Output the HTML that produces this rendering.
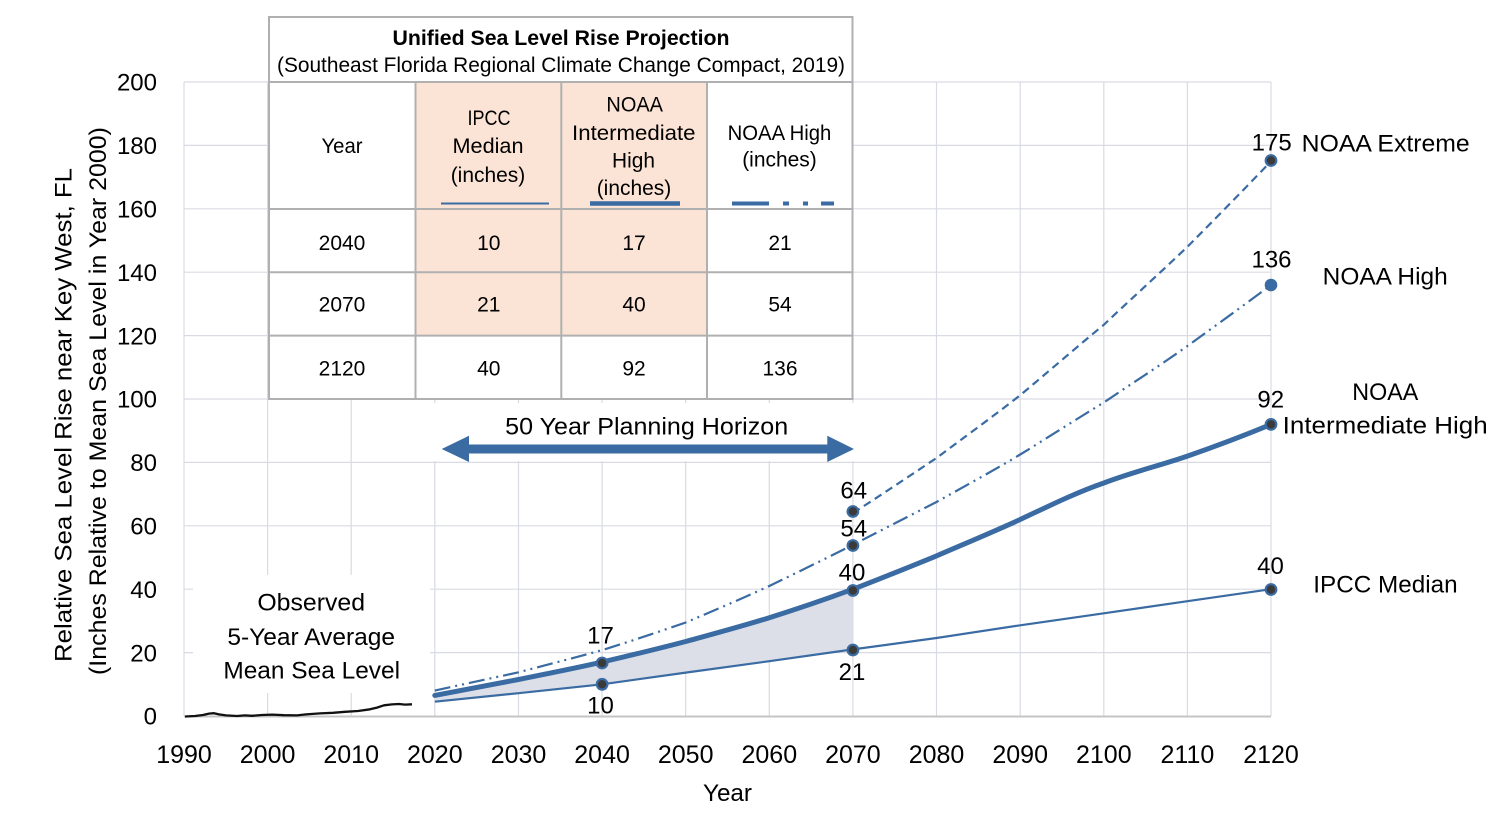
<!DOCTYPE html>
<html>
<head>
<meta charset="utf-8">
<style>
html,body{margin:0;padding:0;background:#fff;}
svg{display:block;}
text{font-family:"Liberation Sans",sans-serif;fill:#000;}
</style>
</head>
<body>
<svg width="1500" height="824" viewBox="0 0 1500 824" xmlns="http://www.w3.org/2000/svg">
<rect x="0" y="0" width="1500" height="824" fill="#fff"/>

<!-- grid -->
<g stroke="#d9dbe4" stroke-width="1.2">
<line x1="184" y1="82" x2="1271" y2="82"/>
<line x1="184" y1="145.4" x2="1271" y2="145.4"/>
<line x1="184" y1="208.8" x2="1271" y2="208.8"/>
<line x1="184" y1="272.2" x2="1271" y2="272.2"/>
<line x1="184" y1="335.6" x2="1271" y2="335.6"/>
<line x1="184" y1="399" x2="1271" y2="399"/>
<line x1="184" y1="462.4" x2="1271" y2="462.4"/>
<line x1="184" y1="525.8" x2="1271" y2="525.8"/>
<line x1="184" y1="589.2" x2="1271" y2="589.2"/>
<line x1="184" y1="652.6" x2="1271" y2="652.6"/>
<line x1="184" y1="82" x2="184" y2="716"/>
<line x1="267.6" y1="82" x2="267.6" y2="716"/>
<line x1="351.2" y1="82" x2="351.2" y2="716"/>
<line x1="434.8" y1="82" x2="434.8" y2="716"/>
<line x1="518.5" y1="82" x2="518.5" y2="716"/>
<line x1="602.1" y1="82" x2="602.1" y2="716"/>
<line x1="685.7" y1="82" x2="685.7" y2="716"/>
<line x1="769.3" y1="82" x2="769.3" y2="716"/>
<line x1="852.9" y1="82" x2="852.9" y2="716"/>
<line x1="936.5" y1="82" x2="936.5" y2="716"/>
<line x1="1020.2" y1="82" x2="1020.2" y2="716"/>
<line x1="1103.8" y1="82" x2="1103.8" y2="716"/>
<line x1="1187.4" y1="82" x2="1187.4" y2="716"/>
<line x1="1271" y1="82" x2="1271" y2="716"/>
</g>
<line x1="184" y1="716.5" x2="1271" y2="716.5" stroke="#c4c4c4" stroke-width="2"/>

<!-- white label boxes -->
<rect x="193" y="575" width="237" height="118" fill="#fff"/>
<rect x="430" y="403" width="430" height="58" fill="#fff"/>

<!-- table -->
<rect x="269" y="17" width="584" height="382" fill="#fff"/>
<rect x="415.5" y="82" width="291.5" height="253.6" fill="#fbe4d6"/>
<g stroke="#b0b0b0" stroke-width="2" fill="none">
<rect x="269" y="17" width="583.5" height="382"/>
<line x1="269" y1="82" x2="852.5" y2="82"/>
<line x1="269" y1="209" x2="852.5" y2="209"/>
<line x1="269" y1="272.2" x2="852.5" y2="272.2"/>
<line x1="269" y1="335.6" x2="852.5" y2="335.6"/>
<line x1="415.5" y1="82" x2="415.5" y2="399"/>
<line x1="561.3" y1="82" x2="561.3" y2="399"/>
<line x1="707" y1="82" x2="707" y2="399"/>
</g>
<text x="561" y="45" font-size="21" font-weight="bold" text-anchor="middle" textLength="337" lengthAdjust="spacingAndGlyphs">Unified Sea Level Rise Projection</text>
<text x="561" y="72" font-size="21" text-anchor="middle" textLength="568" lengthAdjust="spacingAndGlyphs">(Southeast Florida Regional Climate Change Compact, 2019)</text>

<g font-size="21" text-anchor="middle">
<text x="342" y="153" textLength="41" lengthAdjust="spacingAndGlyphs">Year</text>
<text x="489" y="125" textLength="43" lengthAdjust="spacingAndGlyphs">IPCC</text>
<text x="488" y="153" textLength="71" lengthAdjust="spacingAndGlyphs">Median</text>
<text x="488" y="182" textLength="74.6" lengthAdjust="spacingAndGlyphs">(inches)</text>
<text x="634.7" y="111.7" textLength="56.6" lengthAdjust="spacingAndGlyphs">NOAA</text>
<text x="633.8" y="140" textLength="123.5" lengthAdjust="spacingAndGlyphs">Intermediate</text>
<text x="633.5" y="167.3" textLength="43" lengthAdjust="spacingAndGlyphs">High</text>
<text x="634" y="195" textLength="74.6" lengthAdjust="spacingAndGlyphs">(inches)</text>
<text x="779.5" y="140" textLength="103.7" lengthAdjust="spacingAndGlyphs">NOAA High</text>
<text x="779.5" y="166.7" textLength="74.6" lengthAdjust="spacingAndGlyphs">(inches)</text>

<text x="342" y="250">2040</text>
<text x="488.8" y="250">10</text>
<text x="634" y="250">17</text>
<text x="780" y="250">21</text>
<text x="342" y="311.7">2070</text>
<text x="488.8" y="311.7">21</text>
<text x="634" y="311.7">40</text>
<text x="780" y="311.7">54</text>
<text x="342" y="375.5">2120</text>
<text x="488.8" y="375.5">40</text>
<text x="634" y="375.5">92</text>
<text x="780" y="375.5">136</text>
</g>
<!-- legend lines in table -->
<line x1="441" y1="203.5" x2="549" y2="203.5" stroke="#3a6ba3" stroke-width="2"/>
<line x1="590" y1="203.5" x2="680" y2="203.5" stroke="#3a6ba3" stroke-width="4.5"/>
<g stroke="#3a6ba3" stroke-width="4">
<line x1="732" y1="203.5" x2="769" y2="203.5"/>
<line x1="783" y1="203.5" x2="789" y2="203.5"/>
<line x1="803" y1="203.5" x2="808" y2="203.5"/>
<line x1="821" y1="203.5" x2="834" y2="203.5"/>
</g>

<!-- planning horizon arrow -->
<text x="646.7" y="434.3" font-size="24" text-anchor="middle" textLength="283" lengthAdjust="spacingAndGlyphs">50 Year Planning Horizon</text>
<polygon points="441.7,449 469,435.7 469,444.5 827.3,444.5 827.3,435.7 854,449 827.3,462 827.3,453.5 469,453.5 469,462" fill="#3a6ba3"/>

<!-- fill between IPCC and IH -->
<polygon fill="#dcdfe8" points="434.8,695.4 518.5,679.5 602.1,662.1 685.7,641.5 769.3,617.7 852.9,589.2 852.9,649.4 769.3,661.2 685.7,672.6 602.1,684.3 518.5,693.2 434.8,701.7"/>

<!-- observed -->
<polyline fill="none" stroke="#111" stroke-width="2.3" stroke-linejoin="round" points="185,716.5 195,716 203,715 209,713.6 214,713.2 219,714.4 226,715.4 237,716 245,715.4 252,715.8 262,715 272,714.6 284,715.2 297,715.4 306,714.4 320,713.4 333,712.8 345,711.8 358,711 370,709.3 377,707.6 384,705.3 392,704.4 399,704 405,704.6 412,704.3"/>

<!-- IPCC median -->
<polyline fill="none" stroke="#3a6ba3" stroke-width="2.2" stroke-linejoin="round" points="434.8,701.7 518.5,693.2 602.1,684.3 685.7,672.6 769.3,661.2 852.9,649.4 936.5,638.0 1020.2,625.3 1103.8,613.3 1187.4,601.2 1271,589.2"/>

<!-- NOAA Intermediate High -->
<path fill="none" stroke="#3a6ba3" stroke-width="5" stroke-linejoin="round" stroke-linecap="round" d="M434.8,695.4 C462,690 490,685 518.5,679.5 C546,674 574,668.5 602.1,662.1 C630,655.5 658,648.8 685.7,641.5 C713,634 741,626.5 769.3,617.7 C797,609 825,599.5 852.9,589.2 C881,578.5 908,567.5 936.5,555.9 C964,544 993,532 1020.2,519.5 C1048,506.5 1075,493 1103.8,483.0 C1131,472.5 1160,465.5 1187.4,456.1 C1215,446.5 1243,436 1271,424.4"/>

<!-- NOAA High dash-dot-dot -->
<path fill="none" stroke="#3a6ba3" stroke-width="2.2" stroke-dasharray="16 5 2 5 2 5" d="M434.8,690.6 C462,684.5 490,678.5 518.5,672.3 C546,665 574,658 602.1,650.1 C630,641.5 658,632 685.7,622.5 C713,611 741,599 769.3,586.0 C797,572.5 825,559 852.9,544.8 C881,530.5 908,516.5 936.5,502.0 C964,486.5 993,471 1020.2,454.5 C1048,437.5 1075,420 1103.8,402.5 C1131,384 1160,365.5 1187.4,346.0 C1215,326 1243,306 1271,284.9"/>

<!-- NOAA Extreme dashed -->
<path fill="none" stroke="#3a6ba3" stroke-width="2.2" stroke-dasharray="8 5" d="M852.9,513.1 C881,495 908,477 936.5,458.0 C964,437.5 993,416.5 1020.2,395.2 C1048,372 1075,348.5 1103.8,324.8 C1131,299 1160,273 1187.4,246.8 C1215,219 1243,190.5 1271,161.3"/>

<!-- markers -->
<g fill="#3a3a3a" stroke="#3a6ba3" stroke-width="2.2">
<circle cx="602.1" cy="684.3" r="5.3"/>
<circle cx="602.1" cy="663" r="5.3"/>
<circle cx="852.9" cy="650" r="5.3"/>
<circle cx="852.9" cy="590.5" r="5.3"/>
<circle cx="852.9" cy="545.5" r="5.3"/>
<circle cx="852.9" cy="511.5" r="5.3"/>
<circle cx="1271" cy="589.5" r="5.3"/>
<circle cx="1271" cy="424.4" r="5.3"/>
<circle cx="1271" cy="160.5" r="5.3"/>
</g>
<circle cx="1271" cy="285" r="6.3" fill="#3a6ba3"/>

<!-- data labels -->
<g font-size="24" text-anchor="middle">
<text x="600.5" y="643.3">17</text>
<text x="600.5" y="713.3">10</text>
<text x="853.7" y="498.3">64</text>
<text x="853.7" y="536.7">54</text>
<text x="852" y="580.7">40</text>
<text x="852" y="680">21</text>
<text x="1271.7" y="150.7">175</text>
<text x="1271.5" y="267.7">136</text>
<text x="1270.7" y="407.3">92</text>
<text x="1270.5" y="574">40</text>
<text x="1385.3" y="400" textLength="66" lengthAdjust="spacingAndGlyphs">NOAA</text>
</g>
<g font-size="24">
<text x="1301.7" y="151.7" textLength="168" lengthAdjust="spacingAndGlyphs">NOAA Extreme</text>
<text x="1322.7" y="284.3" textLength="125" lengthAdjust="spacingAndGlyphs">NOAA High</text>
<text x="1282.7" y="433.5" textLength="205" lengthAdjust="spacingAndGlyphs">Intermediate High</text>
<text x="1313.3" y="592.7" textLength="144.3" lengthAdjust="spacingAndGlyphs">IPCC Median</text>
</g>

<!-- observed label -->
<g font-size="24" text-anchor="middle">
<text x="311.2" y="610.7" textLength="107.7" lengthAdjust="spacingAndGlyphs">Observed</text>
<text x="311.2" y="645" textLength="167.7" lengthAdjust="spacingAndGlyphs">5-Year Average</text>
<text x="311.7" y="678.3" textLength="176.7" lengthAdjust="spacingAndGlyphs">Mean Sea Level</text>
</g>

<!-- y tick labels -->
<g font-size="24" text-anchor="end">
<text x="157" y="90.7">200</text>
<text x="157" y="154.1">180</text>
<text x="157" y="217.5">160</text>
<text x="157" y="280.9">140</text>
<text x="157" y="344.3">120</text>
<text x="157" y="407.7">100</text>
<text x="157" y="471.1">80</text>
<text x="157" y="534.5">60</text>
<text x="157" y="597.9">40</text>
<text x="157" y="661.3">20</text>
<text x="157" y="724.7">0</text>
</g>

<!-- x tick labels -->
<g font-size="25" text-anchor="middle">
<text x="184" y="763">1990</text>
<text x="267.6" y="763">2000</text>
<text x="351.2" y="763">2010</text>
<text x="434.8" y="763">2020</text>
<text x="518.5" y="763">2030</text>
<text x="602.1" y="763">2040</text>
<text x="685.7" y="763">2050</text>
<text x="769.3" y="763">2060</text>
<text x="852.9" y="763">2070</text>
<text x="936.5" y="763">2080</text>
<text x="1020.2" y="763">2090</text>
<text x="1103.8" y="763">2100</text>
<text x="1187.4" y="763">2110</text>
<text x="1271" y="763">2120</text>
</g>

<!-- axis titles -->
<text x="727.5" y="801" font-size="24" text-anchor="middle" textLength="49" lengthAdjust="spacingAndGlyphs">Year</text>
<text transform="translate(71.5,415) rotate(-90)" font-size="24" text-anchor="middle" textLength="494" lengthAdjust="spacingAndGlyphs">Relative Sea Level Rise near Key West, FL</text>
<text transform="translate(106,401) rotate(-90)" font-size="24" text-anchor="middle" textLength="548" lengthAdjust="spacingAndGlyphs">(Inches Relative to Mean Sea Level in Year 2000)</text>
</svg>
</body>
</html>
